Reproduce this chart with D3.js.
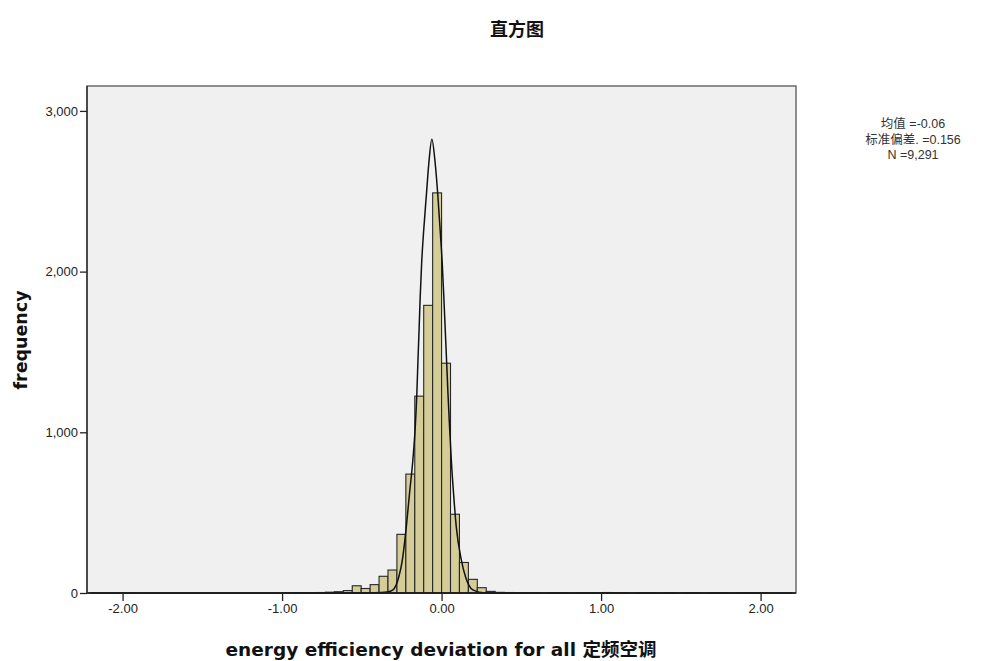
<!DOCTYPE html>
<html>
<head>
<meta charset="utf-8">
<script src="https://cdn.jsdelivr.net/npm/d3@7"></script>
<style>
  body { margin: 0; background: #fff; }
  text { font-family: Arial, "Liberation Sans", "Noto Sans CJK SC", sans-serif; }
</style>
</head>
<body>
<script>
// histogram data
var binWidth = 0.056;
var firstBin = -0.952;   // lower edge of first bin
var counts = [1, 1, 2, 3, 5, 8, 15, 45, 28, 52, 104, 143, 365, 740, 1225, 1790, 2490,
              1430, 490, 190, 85, 33, 10, 4, 3, 2, 1, 1, 0, 1, 1, 0, 1, 1, 2, 3, 1,
              1, 0, 1, 1, 0, 1, 0, 1, 1, 0, 1, 1, 0, 1, 2, 1];

// normal curve as drawn
var curveX = [-2.2, -0.6, -0.42, -0.34, -0.305, -0.268, -0.246, -0.221, -0.201, -0.180, -0.165, -0.155,
              -0.148, -0.141, -0.134, -0.125, -0.112, -0.096, -0.080, -0.061,
              -0.040, -0.023, -0.009, 0.004, 0.014, 0.023, 0.032, 0.040, 0.050, 0.061,
              0.075, 0.092, 0.124, 0.150, 0.196, 0.26, 0.4, 2.2];
var curveY = [0, 0, 1, 6, 19, 101, 205, 413, 620, 828, 1035, 1243,
              1450, 1640, 1844, 2052, 2259, 2467, 2674, 2824,
              2674, 2467, 2259, 2052, 1844, 1637, 1430, 1243, 1035, 828,
              620, 413, 205, 101, 19, 2, 0, 0];

var xTicks = [-2, -1, 0, 1, 2];
var yTicks = [0, 1000, 2000, 3000];
var statsLines = ["均值 =-0.06", "标准偏差. =0.156", "N =9,291"];

var w = 984, h = 661;
var padLeft = 87, padRight = 796, padTop = 86, padBottom = 593;

var svg = d3.select("body").append("svg")
    .attr("width", w)
    .attr("height", h);

var xScale = d3.scaleLinear().domain([-2.223, 2.222]).range([padLeft, padRight]);
var yScale = d3.scaleLinear().domain([0, 3155]).range([padBottom, padTop]);

// plot background
svg.append("rect")
    .attr("x", padLeft).attr("y", padTop)
    .attr("width", padRight - padLeft).attr("height", padBottom - padTop)
    .attr("fill", "#f0f0f0");

// bars
var bins = counts.map(function(c, i) {
      return { x0: firstBin + i * binWidth, x1: firstBin + (i + 1) * binWidth, n: c };
}).filter(function(d) { return d.n > 0; });

svg.selectAll("rect.bar")
    .data(bins)
    .enter()
    .append("rect")
    .attr("class", "bar")
    .attr("x", function(d) { return xScale(d.x0); })
    .attr("y", function(d) { return yScale(d.n); })
    .attr("width", function(d) { return xScale(d.x1) - xScale(d.x0); })
    .attr("height", function(d) { return yScale(0) - yScale(d.n); })
    .attr("fill", "#d4cd97")
    .attr("stroke", "#262626")
    .attr("stroke-width", 1.1);

// normal curve
var line = d3.line()
    .x(function(d) { return xScale(d[0]); })
    .y(function(d) { return yScale(d[1]); })
    .curve(d3.curveMonotoneX);

svg.append("path")
    .datum(d3.zip(curveX, curveY))
    .attr("d", line)
    .attr("fill", "none")
    .attr("stroke", "#111")
    .attr("stroke-width", 1.5);

// frame
svg.append("rect")
    .attr("x", padLeft).attr("y", padTop)
    .attr("width", padRight - padLeft).attr("height", padBottom - padTop)
    .attr("fill", "none")
    .attr("stroke", "#555")
    .attr("stroke-width", 1.3);
svg.append("line")
    .attr("x1", padLeft).attr("x2", padRight).attr("y1", padBottom).attr("y2", padBottom)
    .attr("stroke", "#111").attr("stroke-width", 1.5);
svg.append("line")
    .attr("x1", padLeft).attr("x2", padLeft).attr("y1", padTop).attr("y2", padBottom)
    .attr("stroke", "#333").attr("stroke-width", 1.5);

// axes
var fmtX = d3.format(".2f");
var xAxis = d3.axisBottom(xScale)
    .tickValues(xTicks)
    .tickSize(8)
    .tickPadding(3)
    .tickFormat(function(d) { return fmtX(d).replace("\u2212", "-"); });
var yAxis = d3.axisLeft(yScale)
    .tickValues(yTicks)
    .tickSize(7)
    .tickPadding(2)
    .tickFormat(d3.format(","));

var gx = svg.append("g")
    .attr("transform", "translate(0," + padBottom + ")")
    .call(xAxis);
var gy = svg.append("g")
    .attr("transform", "translate(" + padLeft + ",0)")
    .call(yAxis);

[gx, gy].forEach(function(g) {
      g.select(".domain").remove();
      g.selectAll("line").attr("stroke", "#222").attr("stroke-width", 1.3);
      g.selectAll("text")
        .attr("fill", "#222")
        .style("font-family", "Arial, 'Liberation Sans', sans-serif")
        .style("font-size", "13px");
});

// title and axis titles
svg.append("text")
    .attr("x", 517).attr("y", 36)
    .attr("text-anchor", "middle")
    .style("font-family", "'Noto Sans CJK SC', sans-serif")
    .style("font-weight", "bold")
    .style("font-size", "18px")
    .attr("fill", "#111")
    .text("直方图");

svg.append("text")
    .attr("x", 441).attr("y", 656)
    .attr("text-anchor", "middle")
    .style("font-family", "'DejaVu Sans', 'Noto Sans CJK SC', sans-serif")
    .style("font-weight", "bold")
    .style("font-size", "18.5px")
    .attr("fill", "#111")
    .text("energy efficiency deviation for all 定频空调");

svg.append("text")
    .attr("transform", "translate(27,340) rotate(-90)")
    .attr("text-anchor", "middle")
    .style("font-family", "'DejaVu Sans', sans-serif")
    .style("font-weight", "bold")
    .style("font-size", "17.5px")
    .attr("fill", "#111")
    .text("frequency");

// stats box text
svg.selectAll("text.stat")
    .data(statsLines)
    .enter()
    .append("text")
    .attr("class", "stat")
    .attr("x", 913)
    .attr("y", function(d, i) { return 128 + i * 15.5; })
    .attr("text-anchor", "middle")
    .style("font-family", "Arial, 'Liberation Sans', 'Noto Sans CJK SC', sans-serif")
    .style("font-size", "12.5px")
    .attr("fill", "#333")
    .text(function(d) { return d; });
</script>
</body>
</html>
